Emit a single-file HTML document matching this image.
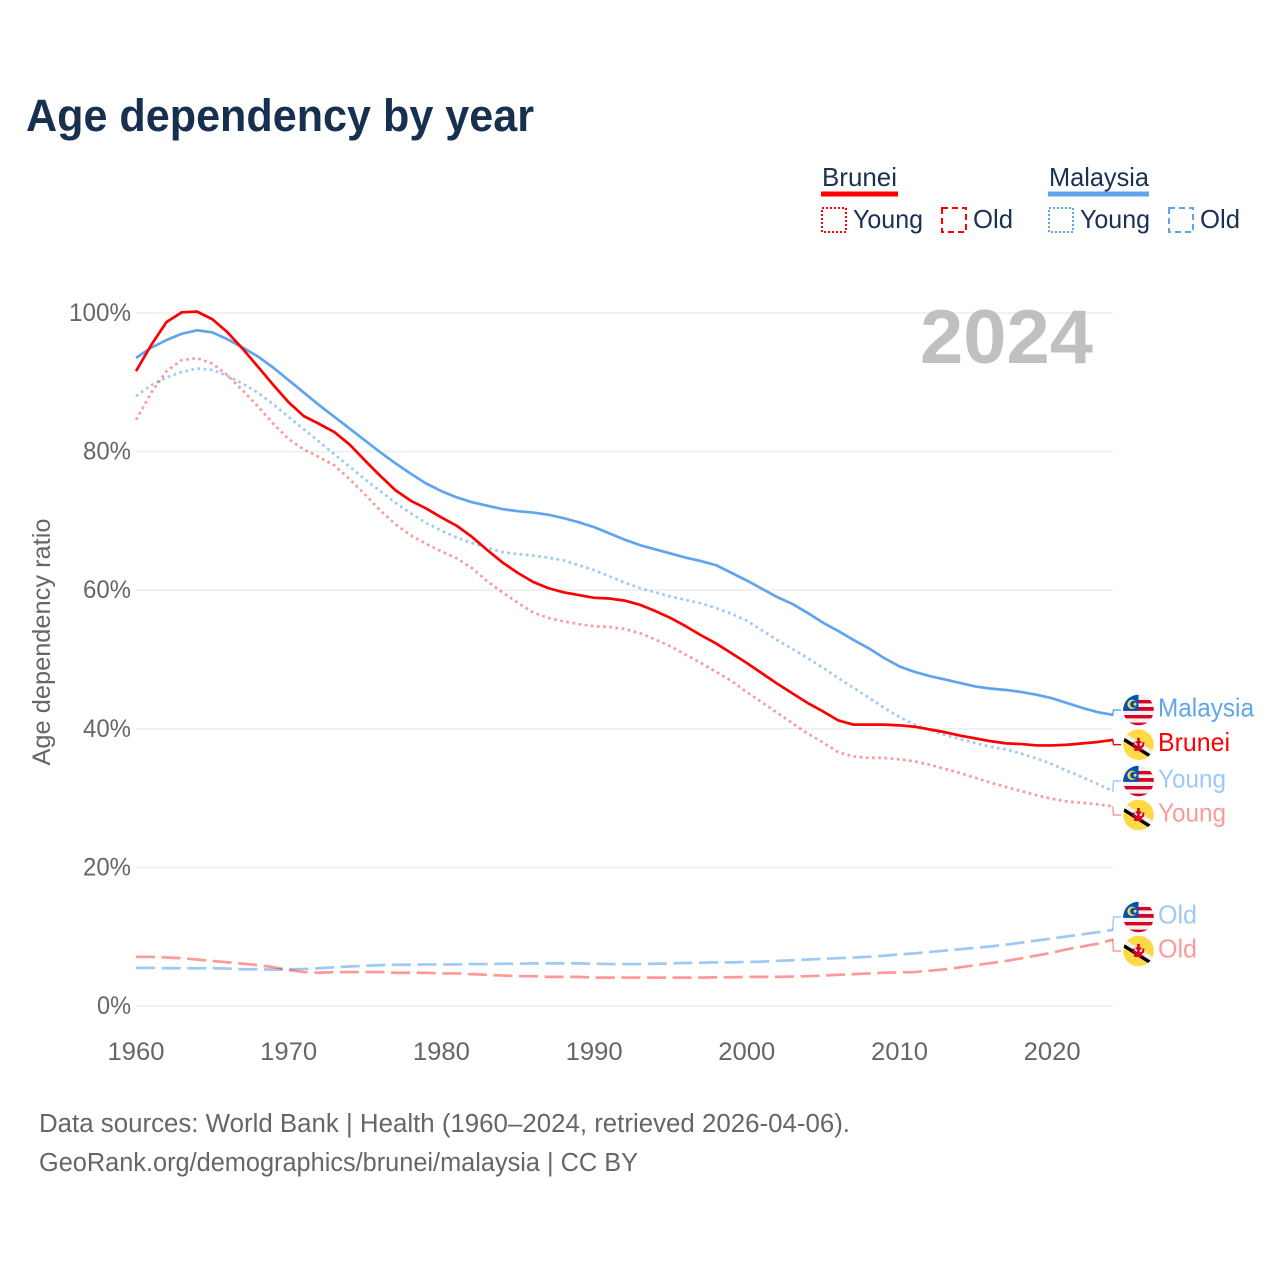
<!DOCTYPE html>
<html>
<head>
<meta charset="utf-8">
<title>Age dependency by year</title>
<style>
html,body{margin:0;padding:0;background:#fff;}
svg{display:block;}
text{font-family:"Liberation Sans",sans-serif;}
</style>
</head>
<body>
<svg id="chart" xmlns="http://www.w3.org/2000/svg" width="1280" height="1280" viewBox="0 0 1280 1280">
<defs>
<clipPath id="flag-clip"><circle cx="0" cy="0" r="15.3"/></clipPath>
<g id="flag-my" clip-path="url(#flag-clip)">
<rect x="-16" y="-16" width="32" height="32" fill="#f0f0f0"/>
<rect x="-16" y="-10" width="32" height="3.4" fill="#d80027"/>
<rect x="-16" y="-3" width="32" height="3.8" fill="#d80027"/>
<rect x="-16" y="5" width="32" height="3.4" fill="#d80027"/>
<rect x="-16" y="12.6" width="32" height="3.4" fill="#d80027"/>
<rect x="-16" y="-16" width="16" height="16.8" fill="#0052b4"/>
<circle cx="-6.4" cy="-5.7" r="4.7" fill="#ffda44"/>
<circle cx="-4.9" cy="-5.7" r="3.5" fill="#0052b4"/>
<circle cx="-3.4" cy="-5.7" r="1.5" fill="#ffda44"/>
</g>
<g id="flag-bn" clip-path="url(#flag-clip)">
<rect x="-16" y="-16" width="32" height="32" fill="#ffda44"/>
<polygon points="-16,-13.1 -16,-8.1 16,12.1 16,7.1" fill="#f0f0f0"/>
<polygon points="-16,-8.1 -16,-4.1 16,16.1 16,12.1" fill="#000"/>
<path d="M-1.3,-7 h2.6 v3.5 h2 l-0.8,2 h-1.2 v3 l2.2,-1 l0.5,-3 l2,0 l-0.6,4 l-3,2.5 h2.5 l-1,2 h-7.8 l-1,-2 h2.5 l-3,-2.5 l-0.6,-4 l2,0 l0.5,3 l2.2,1 v-3 h-1.2 l-0.8,-2 h2z" fill="#d80027"/>
</g>
</defs>
<rect x="0" y="0" width="1280" height="1280" fill="#fff"/>
<text x="26" y="131" font-size="45" font-weight="700" fill="#18304f" textLength="508" lengthAdjust="spacingAndGlyphs">Age dependency by year</text>

<g font-size="26" fill="#1a3152">
<text x="822" y="186" textLength="75" lengthAdjust="spacingAndGlyphs">Brunei</text>
<rect x="821" y="191.5" width="77" height="5" fill="#ff0000"/>
<text x="1049" y="186" textLength="100" lengthAdjust="spacingAndGlyphs">Malaysia</text>
<rect x="1048" y="191.5" width="101" height="5" fill="#5fa5ee"/>
<rect x="822" y="208" width="24" height="24" fill="none" stroke="#ff0000" stroke-width="2" stroke-dasharray="2 2"/>
<text x="853" y="228" textLength="70" lengthAdjust="spacingAndGlyphs">Young</text>
<rect x="942" y="208" width="24" height="24" fill="none" stroke="#ff0000" stroke-width="2" stroke-dasharray="6 4"/>
<text x="973" y="228" textLength="40" lengthAdjust="spacingAndGlyphs">Old</text>
<rect x="1049" y="208" width="24" height="24" fill="none" stroke="#5fa5ee" stroke-width="2" stroke-dasharray="2 2"/>
<text x="1080" y="228" textLength="70" lengthAdjust="spacingAndGlyphs">Young</text>
<rect x="1169" y="208" width="24" height="24" fill="none" stroke="#5fa5ee" stroke-width="2" stroke-dasharray="6 4"/>
<text x="1200" y="228" textLength="40" lengthAdjust="spacingAndGlyphs">Old</text>
</g>

<g id="grid"></g>
<g id="yticks"></g>
<g id="xticks"></g>
<text transform="translate(50,642) rotate(-90)" text-anchor="middle" font-size="25" fill="#666" textLength="247" lengthAdjust="spacingAndGlyphs">Age dependency ratio</text>
<text x="920" y="363" font-size="76" font-weight="700" fill="#c0c0c0" textLength="173" lengthAdjust="spacingAndGlyphs">2024</text>
<g id="series"></g>
<g id="labels"></g>

<text x="39" y="1132" font-size="25.5" fill="#666" textLength="811" lengthAdjust="spacingAndGlyphs">Data sources: World Bank | Health (1960–2024, retrieved 2026-04-06).</text>
<text x="39" y="1171" font-size="25.5" fill="#666" textLength="599" lengthAdjust="spacingAndGlyphs">GeoRank.org/demographics/brunei/malaysia | CC BY</text>
</svg>
<script>
const startYear = 1960;
const xTickYears = [1960, 1970, 1980, 1990, 2000, 2010, 2020];
const yTickValues = [0, 20, 40, 60, 80, 100];
const bruneiTotal = [91.6,95.4,98.7,100.1,100.2,99.1,97.2,94.8,92.2,89.6,87.1,85.1,84,82.8,81,78.7,76.5,74.4,72.9,71.8,70.5,69.3,67.7,65.8,64,62.5,61.2,60.3,59.7,59.3,58.9,58.8,58.5,57.9,57,56,54.8,53.5,52.3,50.9,49.5,48,46.5,45.1,43.7,42.5,41.2,40.6,40.6,40.6,40.5,40.3,39.9,39.5,39,38.6,38.2,37.9,37.8,37.6,37.6,37.7,37.9,38.1,38.4];
const malaysiaTotal = [93.5,95,96.1,97,97.5,97.2,96.2,95,93.7,92.1,90.3,88.5,86.7,85,83.3,81.6,79.9,78.3,76.8,75.4,74.3,73.4,72.7,72.2,71.7,71.4,71.2,70.9,70.4,69.8,69.1,68.2,67.3,66.5,65.9,65.3,64.7,64.2,63.6,62.5,61.4,60.2,59,58,56.7,55.3,54.1,52.8,51.6,50.2,49,48.2,47.6,47.1,46.6,46.1,45.8,45.6,45.3,44.9,44.4,43.7,43,42.4,42];
const bruneiYoung = [84.6,88.5,91.6,93.2,93.5,92.7,91,88.8,86.5,84,81.8,80.3,79.2,78,76,73.8,71.5,69.5,67.9,66.7,65.6,64.6,63.2,61.3,59.7,58.2,56.8,56,55.5,55.1,54.8,54.7,54.4,53.8,52.9,51.9,50.7,49.5,48.2,46.9,45.3,43.8,42.3,40.8,39.3,38,36.6,36,35.8,35.8,35.6,35.3,34.8,34.2,33.6,32.9,32.2,31.6,31,30.4,29.9,29.5,29.3,29.1,28.8];
const malaysiaYoung = [88,89.6,90.7,91.5,92,91.8,90.9,89.8,88.5,86.8,85,83.2,81.4,79.6,77.8,76,74.3,72.6,71.1,69.7,68.6,67.6,66.8,66.1,65.5,65.2,65,64.7,64.3,63.6,62.9,62,61.1,60.3,59.7,59.1,58.6,58.1,57.4,56.6,55.6,54.2,52.8,51.5,50.2,48.8,47.3,45.9,44.5,43,41.7,40.6,39.8,39.1,38.5,37.9,37.4,37,36.4,35.7,34.9,33.9,33,32,31];
const bruneiOld = [7.1,7.1,7,6.9,6.7,6.5,6.3,6.1,5.9,5.6,5.2,4.9,4.8,4.9,4.9,4.9,4.9,4.8,4.8,4.8,4.7,4.7,4.6,4.5,4.4,4.3,4.3,4.2,4.2,4.2,4.1,4.1,4.1,4.1,4.1,4.1,4.1,4.1,4.15,4.15,4.2,4.2,4.2,4.25,4.3,4.4,4.5,4.6,4.7,4.8,4.85,4.9,5.1,5.3,5.6,5.9,6.2,6.5,6.9,7.3,7.7,8.2,8.6,9,9.6];
const malaysiaOld = [5.5,5.5,5.45,5.45,5.45,5.45,5.4,5.3,5.3,5.25,5.3,5.35,5.45,5.6,5.7,5.8,5.9,5.95,5.95,6,6,6,6.05,6.05,6.1,6.1,6.15,6.15,6.15,6.15,6.1,6.05,6.05,6.05,6.1,6.15,6.2,6.25,6.3,6.3,6.35,6.4,6.5,6.6,6.7,6.8,6.9,7,7.1,7.25,7.45,7.6,7.8,8,8.2,8.4,8.6,8.85,9.15,9.45,9.75,10.05,10.35,10.65,11];
const seriesColors = {brunei: "#ff0000", malaysia: "#5fa5ee"};

const SVGNS = "http://www.w3.org/2000/svg";
const xScale = function (year) { return 136 + (year - startYear) * 15.27; };
const yScale = function (v) { return 1006 - v * 6.93; };
const make = function (parent, tag, attrs, txt) {
  const el = document.createElementNS(SVGNS, tag);
  for (const k in attrs) el.setAttribute(k, attrs[k]);
  if (txt !== undefined) el.textContent = txt;
  parent.appendChild(el);
  return el;
};

const grid = document.getElementById("grid");
const yticks = document.getElementById("yticks");
const xticks = document.getElementById("xticks");
yTickValues.forEach(function (v) {
  const line = make(grid, "line", {x1: 136, x2: 1113, y1: yScale(v), y2: yScale(v), stroke: "#eeeeee", "stroke-width": 1.6});
  
  
  const label = v + "%";
  const t = make(yticks, "text", {x: 131, y: yScale(v) + 8, "text-anchor": "end", "font-size": 25, fill: "#666", textLength: label.length === 4 ? 62 : label.length === 3 ? 48 : 34, lengthAdjust: "spacingAndGlyphs"}, label);
  
  
});
xTickYears.forEach(function (yr) {
  const t = make(xticks, "text", {x: xScale(yr), y: 1060, "text-anchor": "middle", "font-size": 25, fill: "#666", textLength: 57, lengthAdjust: "spacingAndGlyphs"}, String(yr));
  
  
});

const seriesGroup = document.getElementById("series");
const drawSeries = function (values, color, opacity, dash, name) {
  const d = values.map(function (v, i) {
    return (i ? "L" : "M") + xScale(startYear + i).toFixed(2) + "," + yScale(v).toFixed(2);
  }).join(" ");
  const attrs = {d: d, fill: "none", stroke: color, "stroke-width": 2.7, "stroke-opacity": opacity, "stroke-linejoin": "round"};
  if (dash) attrs["stroke-dasharray"] = dash;
  const p = make(seriesGroup, "path", attrs);
  
  
};
drawSeries(malaysiaOld, seriesColors.malaysia, 0.6, "19 6.6", "line-malaysia-old");
drawSeries(bruneiOld, seriesColors.brunei, 0.4, "19 6.6", "line-brunei-old");
drawSeries(malaysiaYoung, seriesColors.malaysia, 0.6, "2.7 3.5", "line-malaysia-young");
drawSeries(bruneiYoung, seriesColors.brunei, 0.4, "2.7 3.5", "line-brunei-young");
drawSeries(malaysiaTotal, seriesColors.malaysia, 1, null, "line-malaysia-total");
drawSeries(bruneiTotal, seriesColors.brunei, 1, null, "line-brunei-total");

const labelsGroup = document.getElementById("labels");
const drawEnd = function (values, slotY, flag, text, color, opacity, name, width) {
  const endX = xScale(startYear + values.length - 1);
  const endY = yScale(values[values.length - 1]);
  const leader = make(labelsGroup, "path", {d: "M" + (endX - 0.5) + "," + endY + " L" + (endX + 0.2) + "," + slotY + " L1121," + slotY, fill: "none", stroke: color, "stroke-opacity": opacity, "stroke-width": 1.4});
  
  
  const u = make(labelsGroup, "use", {href: "#" + flag, transform: "translate(1138.5," + slotY + ")"});
  
  
  const t = make(labelsGroup, "text", {x: 1158, y: slotY + 6.5, "font-size": 26, fill: color, "fill-opacity": opacity, textLength: width, lengthAdjust: "spacingAndGlyphs"}, text);
  
  
};
drawEnd(malaysiaTotal, 710, "flag-my", "Malaysia", seriesColors.malaysia, 1, "end-malaysia-total", 96);
drawEnd(bruneiTotal, 744.7, "flag-bn", "Brunei", seriesColors.brunei, 1, "end-brunei-total", 72);
drawEnd(malaysiaYoung, 781, "flag-my", "Young", seriesColors.malaysia, 0.6, "end-malaysia-young", 68);
drawEnd(bruneiYoung, 815, "flag-bn", "Young", seriesColors.brunei, 0.4, "end-brunei-young", 68);
drawEnd(malaysiaOld, 917, "flag-my", "Old", seriesColors.malaysia, 0.6, "end-malaysia-old", 39);
drawEnd(bruneiOld, 951, "flag-bn", "Old", seriesColors.brunei, 0.4, "end-brunei-old", 39);
</script>
</body>
</html>
